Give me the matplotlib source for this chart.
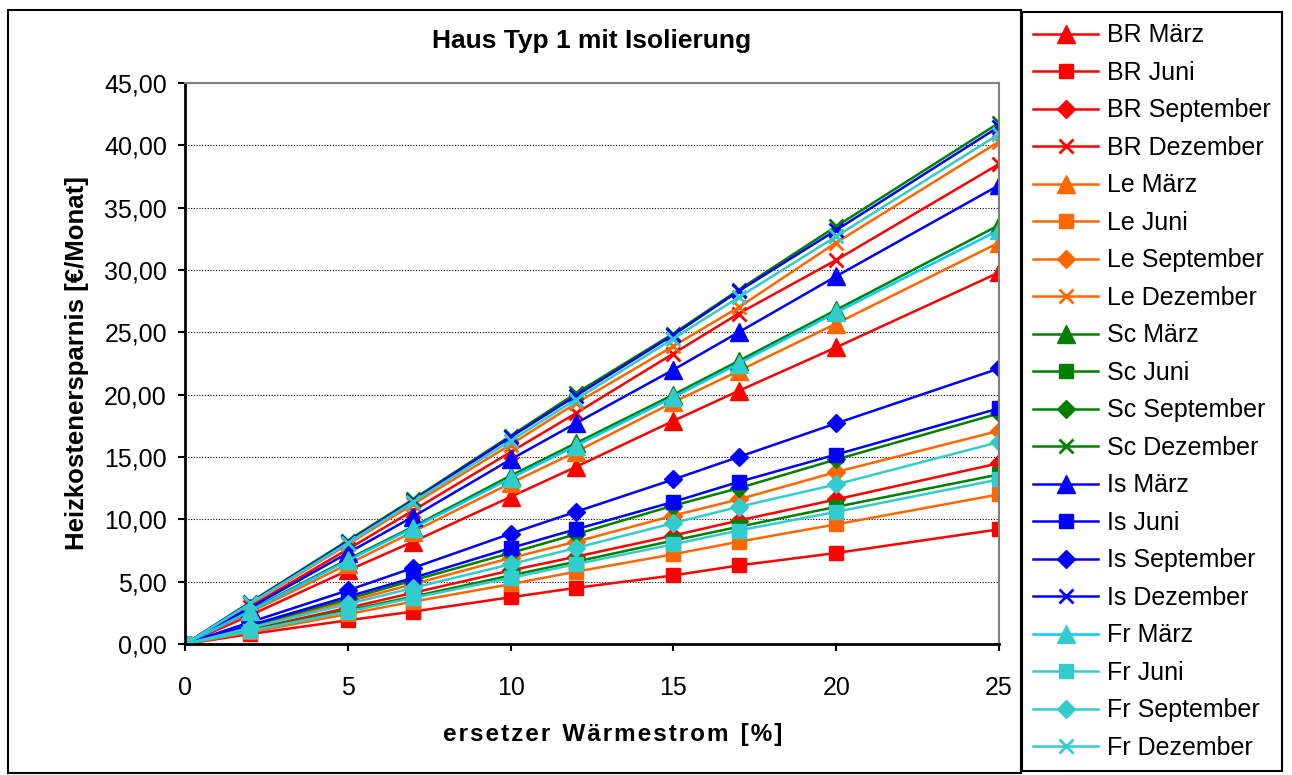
import numpy as np
import matplotlib.pyplot as plt
from matplotlib.patches import Rectangle
from matplotlib.ticker import FuncFormatter, MultipleLocator

plt.rcParams['font.family'] = ['Liberation Sans', 'DejaVu Sans']

# ersetzer Waermestrom [%]
x = [0, 2, 5, 7, 10, 12, 15, 17, 20, 25]

# Heizkostenersparnis [EUR/Monat]
br_maerz = [0, 2.3, 5.9, 8.2, 11.8, 14.2, 17.9, 20.3, 23.8, 29.8]
br_juni = [0, 0.8, 1.9, 2.6, 3.75, 4.5, 5.5, 6.3, 7.3, 9.2]
br_sept = [0, 1.15, 2.9, 4.1, 5.9, 7.0, 8.7, 9.9, 11.6, 14.5]
br_dez = [0, 3.0, 7.6, 10.7, 15.4, 18.5, 23.3, 26.5, 30.8, 38.5]

le_maerz = [0, 2.55, 6.4, 9.0, 12.9, 15.4, 19.4, 21.9, 25.7, 32.2]
le_juni = [0, 0.95, 2.4, 3.4, 4.8, 5.8, 7.2, 8.2, 9.6, 12.0]
le_sept = [0, 1.35, 3.4, 4.8, 6.9, 8.2, 10.3, 11.6, 13.8, 17.1]
le_dez = [0, 3.2, 8.0, 11.2, 16.0, 19.3, 23.9, 27.0, 32.2, 40.3]

sc_maerz = [0, 2.7, 6.8, 9.4, 13.5, 16.1, 20.0, 22.7, 26.8, 33.6]
sc_juni = [0, 1.1, 2.7, 3.8, 5.5, 6.6, 8.3, 9.4, 11.0, 13.6]
sc_sept = [0, 1.45, 3.6, 5.1, 7.3, 8.8, 11.1, 12.5, 14.8, 18.5]
sc_dez = [0, 3.35, 8.3, 11.6, 16.7, 20.1, 24.9, 28.4, 33.5, 41.8]

is_maerz = [0, 2.9, 7.3, 10.2, 14.8, 17.7, 22.0, 25.0, 29.5, 36.8]
is_juni = [0, 1.5, 3.8, 5.3, 7.7, 9.2, 11.4, 13.0, 15.2, 18.9]
is_sept = [0, 1.75, 4.3, 6.1, 8.85, 10.6, 13.2, 15.0, 17.7, 22.1]
is_dez = [0, 3.3, 8.2, 11.5, 16.6, 19.9, 24.8, 28.3, 33.2, 41.5]

fr_maerz = [0, 2.65, 6.7, 9.3, 13.3, 15.9, 19.8, 22.5, 26.6, 33.2]
fr_juni = [0, 1.05, 2.6, 3.7, 5.3, 6.4, 8.0, 9.1, 10.6, 13.2]
fr_sept = [0, 1.3, 3.2, 4.5, 6.4, 7.7, 9.7, 11.0, 12.8, 16.2]
fr_dez = [0, 3.25, 8.1, 11.4, 16.3, 19.6, 24.5, 27.8, 32.7, 40.9]

serien = [
    ("BR März", br_maerz, '#FF0000', '#FF0000', '^'),
    ("BR Juni", br_juni, '#FF0000', '#FF0000', 's'),
    ("BR September", br_sept, '#FF0000', '#FF0000', 'D'),
    ("BR Dezember", br_dez, '#FF0000', '#FF0000', 'x'),
    ("Le März", le_maerz, '#FF6600', '#FF6600', '^'),
    ("Le Juni", le_juni, '#FF6600', '#FF6600', 's'),
    ("Le September", le_sept, '#FF6600', '#FF6600', 'D'),
    ("Le Dezember", le_dez, '#FF6600', '#FF6600', 'x'),
    ("Sc März", sc_maerz, '#008000', '#008000', '^'),
    ("Sc Juni", sc_juni, '#008000', '#008000', 's'),
    ("Sc September", sc_sept, '#008000', '#008000', 'D'),
    ("Sc Dezember", sc_dez, '#008000', '#008000', 'x'),
    ("Is März", is_maerz, '#0000FF', '#0000FF', '^'),
    ("Is Juni", is_juni, '#0000FF', '#0000FF', 's'),
    ("Is September", is_sept, '#0000FF', '#0000FF', 'D'),
    ("Is Dezember", is_dez, '#0000FF', '#0000FF', 'x'),
    ("Fr März", fr_maerz, '#00CCFF', '#33CCCC', '^'),
    ("Fr Juni", fr_juni, '#33CCCC', '#33CCCC', 's'),
    ("Fr September", fr_sept, '#33CCCC', '#33CCCC', 'D'),
    ("Fr Dezember", fr_dez, '#33CCCC', '#33CCCC', 'x'),
]
msize = {'^': 12.5, 's': 9.5, 'D': 9.5, 'x': 10}

fig = plt.figure(figsize=(12.92, 7.75), dpi=100)
ax = fig.add_axes([185/1292, 1-644/775, (999-185)/1292, (644-83)/775])

for name, werte, lc, mc, m in serien:
    ax.plot(x, werte, color=lc, lw=1.8, marker=m, markersize=msize[m],
            markerfacecolor=mc, markeredgecolor=mc,
            markeredgewidth=2 if m == 'x' else 1, label=name)

ax.set_xlim(0, 25)
ax.set_ylim(0, 45)
ax.xaxis.set_major_locator(MultipleLocator(5))
ax.yaxis.set_major_locator(MultipleLocator(5))
ax.yaxis.set_major_formatter(FuncFormatter(lambda v, p: f"{v:.2f}".replace('.', ',')))
ax.tick_params(axis='both', direction='out', length=5, width=1.5, labelsize=18)
ax.tick_params(axis='y', pad=8)
ax.tick_params(axis='x', pad=18)
ax.grid(axis='y', color='black', lw=0.8, linestyle=(0, (1, 1.5)))
ax.set_axisbelow(True)
for s in ['left', 'bottom']:
    ax.spines[s].set_linewidth(2)
for s in ['top', 'right']:
    ax.spines[s].set_color('#808080')
    ax.spines[s].set_linewidth(1.5)

ax.set_title("Haus Typ 1 mit Isolierung", fontsize=19, fontweight='bold', pad=25)
ax.set_ylabel("Heizkostenersparnis [€/Monat]", fontsize=18.5, fontweight='bold', labelpad=11)
ax.set_xlabel("e r s e t z e r   W ä r m e s t r o m   [ % ]".replace('   ', '\u2002').replace(' ', '\u200a'),
              fontsize=17.5, fontweight='bold')
ax.xaxis.set_label_coords(0.525, -0.14)

leg = fig.legend(loc='upper left', bbox_to_anchor=(1022/1292, 1-12/775), fontsize=18,
                 frameon=True, fancybox=False, edgecolor='black', framealpha=1,
                 handlelength=2.6, handletextpad=0.35, labelspacing=0.54, borderpad=0.45,
                 borderaxespad=0)
leg.get_frame().set_linewidth(1.5)

fig.patches.append(Rectangle((8/1292, 0.002), (1021-8)/1292, 1-10/775-0.002,
                             transform=fig.transFigure, fill=False, edgecolor='black', lw=1.5))

fig.savefig("out.png", dpi=100)
